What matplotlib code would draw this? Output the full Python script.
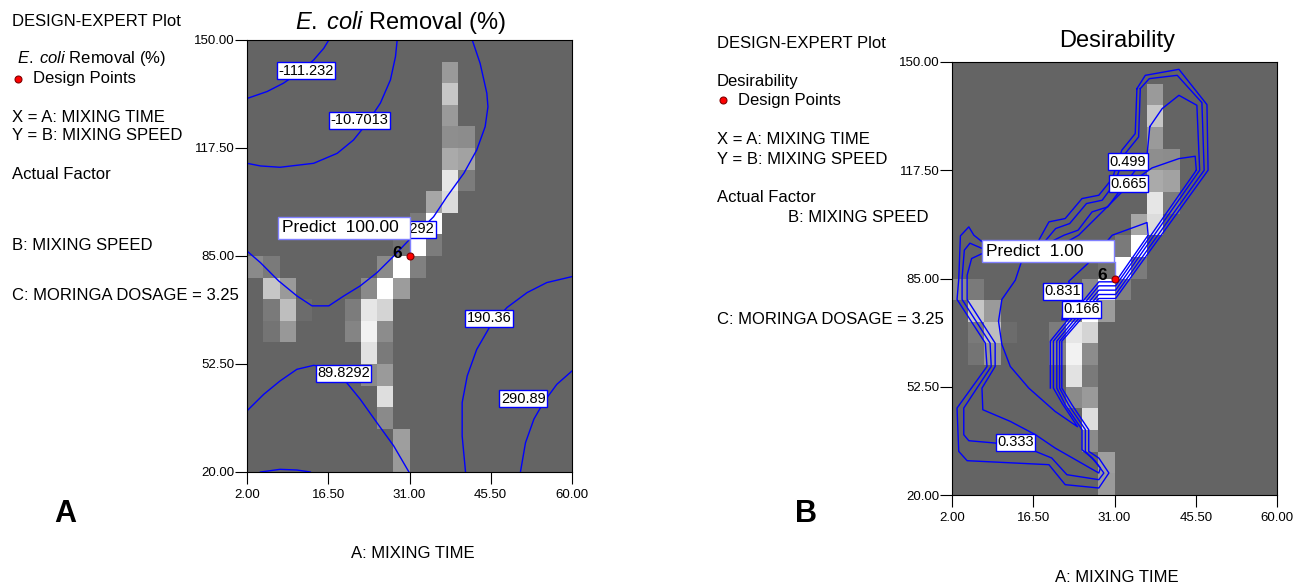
import numpy as np
import matplotlib.pyplot as plt
from matplotlib.lines import Line2D
from matplotlib.patches import Rectangle

plt.rcParams["font.family"] = ["Liberation Sans", "DejaVu Sans"]
plt.rcParams["mathtext.fontset"] = "custom"
plt.rcParams["mathtext.rm"] = "Liberation Sans"
plt.rcParams["mathtext.it"] = "Liberation Sans:italic"

# ============================================================
# Data
# ============================================================

x_ticks = [2.00, 16.50, 31.00, 45.50, 60.00]
y_ticks = [20.00, 52.50, 85.00, 117.50, 150.00]

n_grid = 20
background_level = 100
# (column, row counted from the top, grey level 0-255)
shaded_cells = [
    (12, 1, 154), (12, 2, 198), (12, 3, 154), (12, 4, 142), (12, 5, 170),
    (12, 6, 230), (12, 7, 220),
    (13, 4, 140), (13, 5, 162), (13, 6, 124),
    (11, 7, 166), (11, 8, 255), (11, 9, 124),
    (10, 8, 122), (10, 9, 255), (10, 10, 128),
    (9, 9, 112), (9, 10, 255), (9, 11, 156), (9, 18, 158), (9, 19, 154),
    (8, 10, 138), (8, 11, 255), (8, 12, 212), (8, 13, 140), (8, 14, 122),
    (8, 15, 154), (8, 16, 222), (8, 17, 138),
    (7, 11, 138), (7, 12, 230), (7, 13, 242), (7, 14, 226), (7, 15, 138),
    (6, 12, 124), (6, 13, 132),
    (0, 10, 138),
    (1, 10, 122), (1, 11, 198), (1, 12, 122), (1, 13, 116),
    (2, 11, 154), (2, 12, 190), (2, 13, 152),
    (3, 12, 108),
]

design_point = (31.0, 85.0)
design_count = 6

# E. coli removal contours: level -> list of polylines (time, speed)
ecoli_levels = [-111.232, -10.7013, 89.8292, 190.36, 290.89]
ecoli_paths = {
    -111.232: [[(16.6, 150.0), (15.7, 147.5), (13.9, 144.0), (11.5, 140.5),
                (8.5, 137.0), (5.6, 134.5), (2.0, 132.4)]],
    -10.7013: [[(28.8, 150.0), (28.5, 145.0), (27.6, 138.0), (25.8, 131.0),
                (23.4, 124.9), (21.0, 119.9), (18.1, 115.9), (13.9, 112.9),
                (7.9, 111.7), (4.4, 112.1), (2.0, 112.9)]],
    89.8292: [[(42.2, 150.0), (43.6, 143.0), (44.8, 134.0), (45.0, 129.9),
               (44.5, 123.9), (43.0, 116.9), (40.7, 109.9), (37.7, 102.9),
               (35.3, 96.8), (32.9, 92.8), (30.9, 89.8), (28.2, 85.0),
               (25.2, 80.0), (22.2, 76.0), (19.3, 73.0), (16.6, 70.0),
               (13.6, 70.0), (10.9, 73.0), (7.65, 77.5), (4.4, 83.0),
               (2.0, 86.5)],
              [(2.0, 38.4), (5.0, 43.4), (7.9, 47.4), (10.9, 50.9),
               (13.9, 52.1), (16.9, 51.4), (19.3, 47.9), (22.2, 41.9),
               (25.2, 34.8), (28.2, 27.8), (30.9, 20.0)],
              [(4.4, 20.0), (7.9, 20.8), (10.9, 20.6), (13.3, 20.0)]],
    190.36: [[(60.0, 78.8), (55.5, 77.0), (52.0, 74.0), (48.4, 69.5),
              (45.4, 63.9), (43.0, 56.9), (41.3, 48.9), (40.4, 40.9),
              (40.4, 30.8), (41.0, 20.0)]],
    290.89: [[(60.0, 50.4), (57.3, 46.4), (54.9, 40.9), (53.2, 35.9),
              (51.7, 28.8), (50.8, 20.0)]],
}
ecoli_label_at = [
    (-111.232, 12.5, 140.7),
    (-10.7013, 22.1, 125.8),
    (89.8292, 30.75, 93.0),
    (89.8292, 19.25, 49.7),
    (190.36, 45.2, 66.3),
    (290.89, 51.3, 42.0),
]

# Desirability contours
desir_levels = [0.166, 0.333, 0.499, 0.665, 0.831]
desir_paths = {
    0.166: [[(35.0, 142.0), (36.5, 146.0), (42.5, 147.8), (47.5, 137.2),
             (47.7, 117.5), (31.2, 79.0), (28.2, 79.0), (21.6, 66.2),
             (21.6, 52.1), (23.4, 47.1), (26.4, 39.6), (26.4, 33.1),
             (28.2, 31.1), (30.0, 26.6), (28.2, 22.1), (22.2, 23.1),
             (19.3, 29.1), (4.7, 30.3), (3.2, 33.1), (2.9, 46.1),
             (8.25, 58.6), (7.95, 65.6), (2.9, 78.7), (3.2, 84.7),
             (3.5, 97.8), (5.0, 100.5), (5.9, 98.0), (7.4, 96.0),
             (17.0, 95.0), (19.3, 102.0), (22.2, 103.0), (25.2, 109.0),
             (28.2, 110.0), (30.6, 115.0), (32.3, 123.5), (34.7, 128.5),
             (35.0, 142.0)]],
    0.333: [[(35.6, 142.0), (37.2, 145.0), (42.2, 146.0), (46.6, 137.8),
             (47.0, 117.5), (31.2, 80.2), (28.2, 80.2), (21.2, 66.2),
             (21.2, 52.1), (22.8, 47.1), (25.8, 39.6), (25.8, 33.1),
             (27.6, 30.1), (29.1, 26.6), (28.2, 24.6), (22.5, 26.1),
             (19.8, 31.1), (16.9, 33.1), (9.7, 35.6), (5.0, 36.3),
             (4.1, 38.1), (4.1, 46.1), (9.0, 58.6), (8.8, 65.6),
             (3.8, 78.7), (3.8, 85.2), (4.2, 93.5), (5.2, 95.6),
             (7.4, 94.0), (18.5, 96.0), (20.5, 100.0), (23.0, 101.5),
             (26.0, 107.5), (28.8, 108.5), (31.0, 113.5), (32.9, 122.5),
             (35.3, 127.5), (35.6, 142.0)]],
    0.499: [[(37.3, 130.6), (39.5, 136.0), (42.5, 140.0), (45.7, 137.0),
             (46.2, 117.5), (31.2, 81.5), (28.2, 81.5), (20.7, 66.2),
             (20.7, 52.1), (22.2, 47.1), (25.2, 39.6), (25.2, 33.6),
             (27.0, 31.1), (28.5, 28.1), (28.2, 26.6), (20.4, 34.1),
             (16.9, 38.1), (12.4, 42.1), (7.5, 45.6), (7.35, 52.1),
             (9.7, 58.6), (9.7, 65.6), (4.7, 78.7), (4.7, 86.0),
             (5.5, 91.0), (7.4, 92.5), (19.0, 95.5), (22.0, 98.0),
             (24.5, 99.5), (27.0, 105.0), (29.8, 106.5), (32.0, 111.5),
             (34.5, 117.0), (36.8, 122.0), (37.3, 130.6)]],
    0.665: [[(45.6, 117.5), (45.4, 121.7), (42.5, 121.0), (37.7, 118.2),
             (34.1, 114.0), (29.4, 106.0), (24.6, 98.0), (22.5, 96.0),
             (14.4, 90.1), (13.3, 84.5), (10.9, 78.7), (10.3, 72.2),
             (10.9, 65.2), (12.4, 58.6), (15.7, 52.1), (20.4, 45.1),
             (24.4, 40.5), (21.7, 47.4), (20.1, 52.1), (20.1, 66.2),
             (28.2, 82.8), (31.2, 82.8), (45.6, 117.5)]],
    0.831: [[(19.55, 52.1), (19.55, 66.2), (28.2, 84.0), (31.2, 84.0),
             (37.0, 98.0), (36.8, 101.8), (30.6, 98.0), (26.3, 89.6),
             (22.8, 84.1), (23.1, 83.1), (22.2, 78.6), (21.6, 72.6),
             (22.6, 72.6)]],
}
desir_label_at = [
    (0.499, 33.4, 120.0),
    (0.665, 33.5, 113.5),
    (0.831, 21.7, 81.1),
    (0.166, 25.1, 75.8),
    (0.333, 13.3, 35.8),
]

# Prediction call-out boxes (time_min, speed_min, time_max, speed_max)
ecoli_predict = ("Predict  100.00", (7.48, 90.1, 31.0, 96.8))
desir_predict = ("Predict  1.00", (7.35, 90.0, 31.0, 96.5))

# ============================================================
# Figure
# ============================================================

W, H = 1299, 584
fig = plt.figure(figsize=(W / 100, H / 100), dpi=100)
fig.patch.set_facecolor("white")


def fx(px):
    return px / W


def fy(py):
    return 1 - py / H


grid = np.full((n_grid, n_grid), background_level, dtype=float)
for col, row, level in shaded_cells:
    grid[row, col] = level

x_edges = np.linspace(x_ticks[0], x_ticks[-1], n_grid + 1)
y_edges = np.linspace(y_ticks[-1], y_ticks[0], n_grid + 1)

LINE_BLUE = "#0000ff"


def draw_panel(ax, paths, label_at, predict):
    ax.pcolormesh(x_edges, y_edges, grid, cmap="gray", vmin=0, vmax=255,
                  shading="flat", edgecolors="none", antialiased=False,
                  zorder=1)
    for level, polylines in paths.items():
        for pts in polylines:
            xs, ys = zip(*pts)
            ax.plot(xs, ys, color=LINE_BLUE, lw=1.0, zorder=2)
    for level, lx, ly in label_at:
        ax.text(lx, ly, f"{level:g}", ha="center", va="center", fontsize=10.5,
                zorder=3,
                bbox=dict(boxstyle="square,pad=0.1", fc="white",
                          ec=LINE_BLUE, lw=1.0))

    text, (x0, y0, x1, y1) = predict
    ax.add_patch(Rectangle((x0, y0), x1 - x0, y1 - y0, fc="white",
                           ec="#8080ff", lw=1.0, zorder=5))
    ax.text(x0 + 0.7, (y0 + y1) / 2, text, ha="left", va="center",
            fontsize=12.5, zorder=6)
    ax.plot([x1, x1], [y0, design_point[1]], color="#8080ff", lw=1.0,
            zorder=5)

    ax.plot(*design_point, "o", ms=5, mfc="red", mec="#800000", mew=0.8,
            zorder=7)
    ax.text(design_point[0] - 1.4, design_point[1] + 0.8, str(design_count),
            ha="right", va="center", fontsize=12.5, fontweight="bold",
            zorder=7)

    ax.set_xlim(x_ticks[0], x_ticks[-1])
    ax.set_ylim(y_ticks[0], y_ticks[-1])
    ax.set_xticks(x_ticks)
    ax.set_yticks(y_ticks)
    ax.set_xticklabels([f"{v:.2f}" for v in x_ticks])
    ax.set_yticklabels([f"{v:.2f}" for v in y_ticks])
    ax.tick_params(direction="out", length=8.4, width=0.8, labelsize=9.5,
                   colors="black")
    ax.tick_params(axis="y", pad=0.5)
    ax.tick_params(axis="x", pad=4)
    for s in ax.spines.values():
        s.set_color("black")
        s.set_linewidth(0.8)


def side_text(x, y, s, **kw):
    fig.text(fx(x), fy(y), s, ha="left", va="center", fontsize=12, **kw)


def legend_dot(x, y):
    fig.add_artist(Line2D([fx(x)], [fy(y)], transform=fig.transFigure,
                          marker="o", ms=5, mfc="red", mec="#800000",
                          mew=0.8, ls=""))


ecoli_name = r"$\mathit{E.\;coli}$ Removal (%)"

# ---------------- Panel A: E. coli removal ----------------
ax_a = fig.add_axes([fx(247), fy(472), fx(572) - fx(247), fy(40) - fy(472)])
draw_panel(ax_a, ecoli_paths, ecoli_label_at, ecoli_predict)

fig.text(fx(400), fy(22), ecoli_name, ha="center", va="center", fontsize=17)
side_text(12, 21, "DESIGN-EXPERT Plot")
side_text(17, 59, ecoli_name)
legend_dot(18, 79)
side_text(33, 79, "Design Points")
side_text(12, 117, "X = A: MIXING TIME")
side_text(12, 136, "Y = B: MIXING SPEED")
side_text(12, 175, "Actual Factor")
side_text(12, 245, "B: MIXING SPEED")
side_text(12, 295, "C: MORINGA DOSAGE = 3.25")
fig.text(fx(65), fy(514), "A", ha="center", va="center", fontsize=22,
         fontweight="bold")
fig.text(fx(413), fy(554), "A: MIXING TIME", ha="center", va="center",
         fontsize=12)

# ---------------- Panel B: desirability ----------------
ax_b = fig.add_axes([fx(952), fy(495), fx(1277) - fx(952), fy(62) - fy(495)])
draw_panel(ax_b, desir_paths, desir_label_at, desir_predict)

fig.text(fx(1117), fy(41), "Desirability", ha="center", va="center",
         fontsize=17)
side_text(717, 43, "DESIGN-EXPERT Plot")
side_text(717, 81, "Desirability")
legend_dot(723, 100)
side_text(738, 100, "Design Points")
side_text(717, 140, "X = A: MIXING TIME")
side_text(717, 159, "Y = B: MIXING SPEED")
side_text(717, 197, "Actual Factor")
side_text(788, 217, "B: MIXING SPEED")
side_text(717, 319, "C: MORINGA DOSAGE = 3.25")
fig.text(fx(806), fy(514), "B", ha="center", va="center", fontsize=22,
         fontweight="bold")
fig.text(fx(1117), fy(577), "A: MIXING TIME", ha="center", va="center",
         fontsize=12)

fig.savefig("out.png", dpi=100, facecolor="white")
